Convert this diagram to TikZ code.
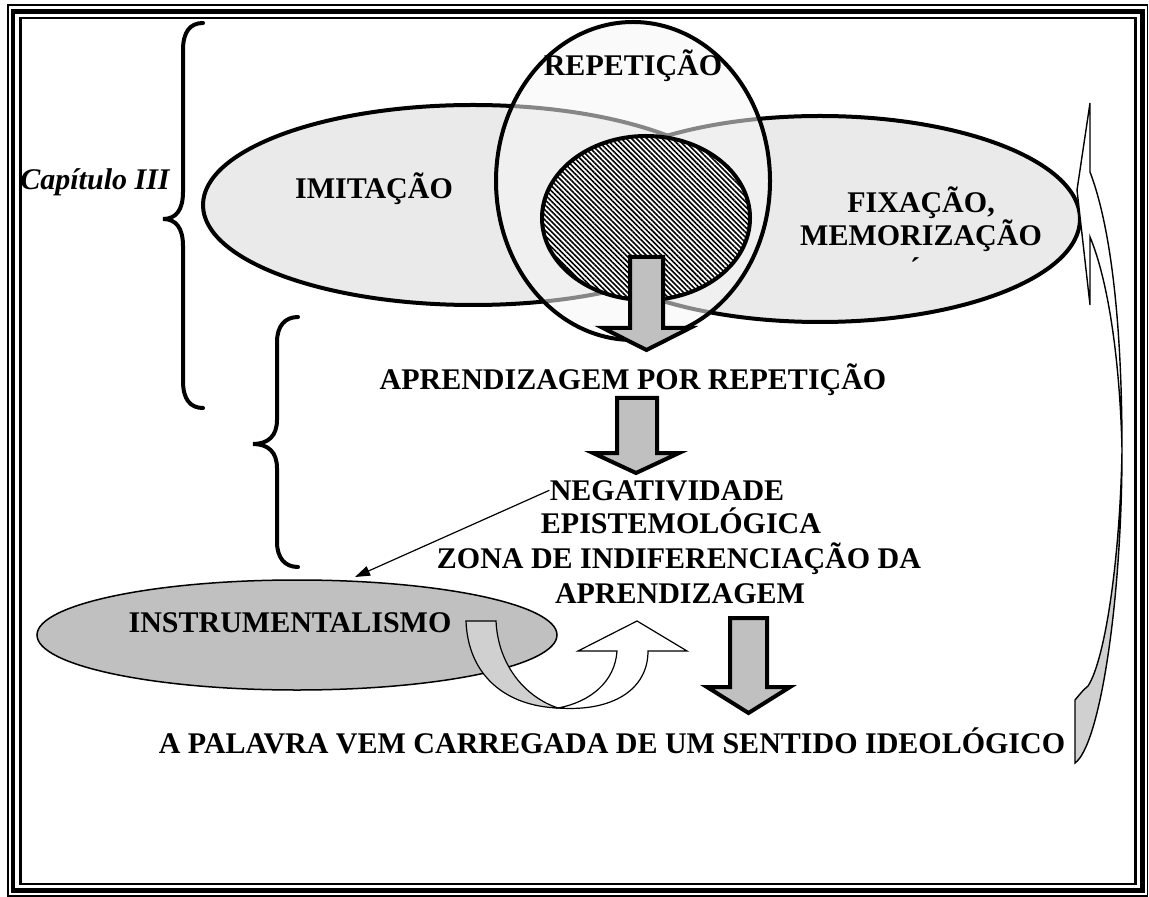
\documentclass[tikz,border=0pt]{standalone}
\usepackage{fontspec}
\setmainfont{Liberation Serif}
\usetikzlibrary{shapes.geometric,arrows.meta,patterns.meta}
\definecolor{lightfill}{HTML}{EAEAEA}
\definecolor{midfill}{HTML}{C0C0C0}
\definecolor{bandfill}{HTML}{D0D0D0}
\tikzset{
  bigtext/.style={font=\bfseries\fontsize{15}{17}\selectfont, inner sep=0pt, anchor=base},
  blockarrow/.style={draw=black, line width=2pt, fill=midfill, line join=miter},
  bracket/.style={line width=2pt, line cap=round},
  ribbon/.style={draw=black, line width=0.7pt, line join=miter},
}
\begin{document}
\begin{tikzpicture}[x=0.5pt,y=-0.5pt]
\useasboundingbox (0,0) rectangle (1149,897);
% frame
\draw[line width=0.75pt] (8,5) rectangle (1147.5,896);
\draw[line width=2.25pt] (13,11.5) rectangle (1142.5,890.5);
\draw[line width=1.2pt] (20.5,18) rectangle (1135.5,884);
% braces
\draw[bracket] (203,23) .. controls (190,23) and (183,32) .. (183,50) -- (183,192) .. controls (183,210) and (176,219) .. (163,219) .. controls (176,219) and (183,228) .. (183,246) -- (183,381) .. controls (183,399) and (190,408) .. (203,408);
\draw[bracket] (298,317) .. controls (285,317) and (277,326) .. (277,342) -- (277,420) .. controls (277,436) and (268,444) .. (253,444) .. controls (268,444) and (277,452) .. (277,468) -- (277,542) .. controls (277,558) and (285,567) .. (298,567);
% ellipses
\node[ellipse, draw, line width=2pt, fill=lightfill, minimum width=270pt, minimum height=100pt] (imit) at (473,205) {};
\node[ellipse, draw, line width=2pt, fill=lightfill, minimum width=260pt, minimum height=103pt] (fix) at (820,219) {};
\node[ellipse, draw, line width=2pt, fill=gray!8, fill opacity=0.55, minimum width=137pt, minimum height=159pt] (rep) at (633,181) {};
\node[ellipse, draw, line width=2pt, preaction={fill=white}, pattern={Lines[angle=-45, distance=1.8pt, line width=0.8pt]}, minimum width=104pt, minimum height=82pt] (core) at (646,218) {};
\draw[blockarrow] (630,257) -- (663,257) -- (663,328) -- (690,328) -- (646.5,350) -- (603,328) -- (630,328) -- cycle;
% labels
\node[bigtext, font=\bfseries\itshape\fontsize{15}{17}\selectfont] (cap) at (95,190) {Capítulo III};
\node[bigtext] (imittxt) at (374,199) {IMITAÇÃO};
\node[bigtext] (reptxt) at (633,76) {REPETIÇÃO};
\node[bigtext] (fixA) at (921,213) {FIXAÇÃO,};
\node[bigtext] (fixB) at (921,246) {MEMORIZAÇÃO};
\node[bigtext] (accent) at (915,279) {´};
\node[bigtext] (aprend) at (633,390) {APRENDIZAGEM POR REPETIÇÃO};
\node[bigtext] (negA) at (667,500) {NEGATIVIDADE};
\node[bigtext] (negB) at (681,533) {EPISTEMOLÓGICA};
\node[bigtext] (negC) at (679,568) {ZONA DE INDIFERENCIAÇÃO DA};
\node[bigtext] (negD) at (680,603) {APRENDIZAGEM};
\node[bigtext] (palavra) at (612,753) {A PALAVRA VEM CARREGADA DE UM SENTIDO IDEOLÓGICO};
% right curved arrow
\draw[ribbon, fill=white] (1090,103) -- (1090,172) .. controls (1112,230) and (1122,330) .. (1122,450) .. controls (1120,360) and (1108,280) .. (1090,237) -- (1090,305) -- (1077,190) -- cycle;
\draw[ribbon, fill=bandfill] (1122,450) .. controls (1122,600) and (1100,745) .. (1075,763) -- (1075,700) .. controls (1080,694) and (1083,690) .. (1088,686) .. controls (1105,660) and (1120,560) .. (1122,450) -- cycle;
% instrumentalismo
\node[ellipse, draw, line width=0.75pt, fill=midfill, minimum width=260pt, minimum height=55pt] (instr) at (297,635) {};
\node[bigtext] (instrtxt) at (290,632) {INSTRUMENTALISMO};
\coordinate (instrtop) at (355,577);
\draw[-{Triangle[length=7.5pt,width=5pt]}, line width=0.6pt] (negA.west) -- (instrtop);
% u-turn arrow
\draw[ribbon, line width=0.6pt, fill=bandfill] (466,621) -- (496,621) .. controls (498,665) and (525,697) .. (558,708) .. controls (505,706) and (468,675) .. (466,621) -- cycle;
\draw[ribbon, line width=0.6pt, fill=white] (558,708) .. controls (612,712) and (648,690) .. (648,651) -- (687,651) -- (637,621) -- (578,651) -- (617,651) .. controls (615,682) and (590,702) .. (558,708) -- cycle;
% block arrows
\draw[blockarrow] (617,398) -- (657,398) -- (657,453) -- (679,453) -- (636,473) -- (593,453) -- (617,453) -- cycle;
\draw[blockarrow] (730,618) -- (767,618) -- (767,687) -- (790,687) -- (748.5,713) -- (707,687) -- (730,687) -- cycle;
\end{tikzpicture}
\end{document}
